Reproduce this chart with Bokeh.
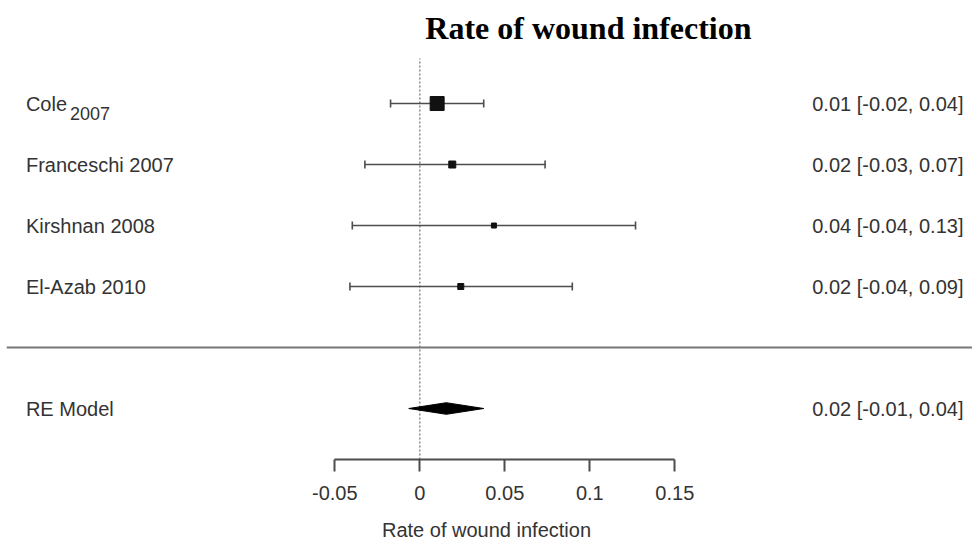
from bokeh.plotting import figure
from bokeh.models import Range1d, LinearAxis, FixedTicker, ColumnDataSource
from bokeh.core.properties import value
from bokeh.embed import file_html
from bokeh.resources import INLINE

# ---- data -----------------------------------------------------------------
study_names = ["Cole", "Franceschi", "Kirshnan", "El-Azab"]
study_years = ["2007", "2007", "2008", "2010"]
estimates = [0.0102, 0.0191, 0.0436, 0.0241]
ci_lower = [-0.0172, -0.0323, -0.0397, -0.0411]
ci_upper = [0.0376, 0.0737, 0.1269, 0.0897]
re_estimate = 0.0156
re_lower = -0.0065
re_upper = 0.0376
x_ticks = [-0.05, 0.0, 0.05, 0.1, 0.15]

title_text = "Rate of wound infection"
axis_title = "Rate of wound infection"
re_label = "RE Model"

# ---- styling ---------------------------------------------------------------
marker_px = [14, 7, 5, 6]
FONT = "Liberation Sans"
TEXT_COLOR = "#333333"
LINE_COLOR = "#4d4d4d"

# study rows from top to bottom, summary row below the separator
k = len(study_names)
rows = list(range(k, 0, -1))
re_row = -1

W, H = 972, 543
FRAME_H = 459
p = figure(width=W, height=H, output_backend="svg", toolbar_location=None,
           x_range=Range1d(-0.24665, 0.32512), y_range=Range1d(-1.836, 5.689),
           x_axis_location=None, y_axis_location=None,
           min_border_left=0, min_border_right=0, min_border_top=0,
           min_border_bottom=H - FRAME_H)
p.outline_line_color = None
p.grid.visible = False
p.background_fill_color = "white"
p.border_fill_color = "white"

# x axis limited to the tick span
xaxis = LinearAxis(bounds=(x_ticks[0], x_ticks[-1]), ticker=FixedTicker(ticks=x_ticks),
                   axis_label=axis_title)
xaxis.major_label_overrides = {t: f"{t:g}" for t in x_ticks}
xaxis.axis_line_color = LINE_COLOR
xaxis.axis_line_width = 2
xaxis.major_tick_line_color = LINE_COLOR
xaxis.major_tick_line_width = 2
xaxis.major_tick_in = 0
xaxis.major_tick_out = 12
xaxis.minor_tick_line_color = None
xaxis.major_label_standoff = 14
xaxis.major_label_text_font = FONT
xaxis.major_label_text_font_size = "20px"
xaxis.major_label_text_color = TEXT_COLOR
xaxis.axis_label_standoff = 16
xaxis.axis_label_text_font = FONT
xaxis.axis_label_text_font_size = "20px"
xaxis.axis_label_text_font_style = "normal"
xaxis.axis_label_text_color = TEXT_COLOR
p.add_layout(xaxis, "below")

# reference line at zero
p.segment(x0=[0], y0=[-1.836], x1=[0], y1=[4.74], line_color="#8a8a8a",
          line_width=1.5, line_dash="2 2")

# separator between studies and summary
p.segment(x0=[-0.243], y0=[0], x1=[0.33], y1=[0], line_color="#777777", line_width=2)

# confidence intervals with end caps
src = ColumnDataSource(dict(y=rows, est=estimates, lo=ci_lower, hi=ci_upper,
                            size=marker_px,
                            cap_lo=[r - 0.065 for r in rows],
                            cap_hi=[r + 0.065 for r in rows]))
p.segment(x0="lo", y0="y", x1="hi", y1="y", source=src, line_color=LINE_COLOR, line_width=1.6)
p.segment(x0="lo", y0="cap_lo", x1="lo", y1="cap_hi", source=src, line_color=LINE_COLOR, line_width=1.6)
p.segment(x0="hi", y0="cap_lo", x1="hi", y1="cap_hi", source=src, line_color=LINE_COLOR, line_width=1.6)
p.scatter(x="est", y="y", size="size", marker="square", source=src,
          fill_color="#111111", line_color="#111111")

# summary diamond
h = 0.095
p.patch(x=[re_lower, re_estimate, re_upper, re_estimate],
        y=[re_row, re_row + h, re_row, re_row - h],
        fill_color="black", line_color="black", line_width=1)

# left-hand study labels
left_x = -0.2317
labels = [n if i == 0 else f"{n} {y}" for i, (n, y) in enumerate(zip(study_names, study_years))]
p.text(x=[left_x] * k, y=rows, text=labels, text_font=value(FONT), text_font_size="20px",
       text_color=TEXT_COLOR, text_baseline="middle", text_align="left")
# first study shows its year lowered
p.text(x=[left_x + 0.0259], y=[rows[0] - 0.165], text=[study_years[0]], text_font=value(FONT),
       text_font_size="18px", text_color=TEXT_COLOR, text_baseline="middle", text_align="left")
p.text(x=[left_x], y=[re_row], text=[re_label], text_font=value(FONT), text_font_size="20px",
       text_color=TEXT_COLOR, text_baseline="middle", text_align="left")

# right-hand estimate labels
right_x = 0.3198
est_labels = [f"{e:.2f} [{l:.2f}, {u:.2f}]" for e, l, u in zip(estimates, ci_lower, ci_upper)]
est_labels.append(f"{re_estimate:.2f} [{re_lower:.2f}, {re_upper:.2f}]")
p.text(x=[right_x] * (k + 1), y=rows + [re_row], text=est_labels, text_font=value(FONT),
       text_font_size="20px", text_color=TEXT_COLOR, text_baseline="middle", text_align="right")

# title
p.text(x=[0.0992], y=[5.24], text=[title_text], text_font=value("Liberation Serif"),
       text_font_size="32px", text_font_style="bold", text_color="black",
       text_baseline="middle", text_align="center")

open("out.html", "w").write(file_html(p, INLINE))
